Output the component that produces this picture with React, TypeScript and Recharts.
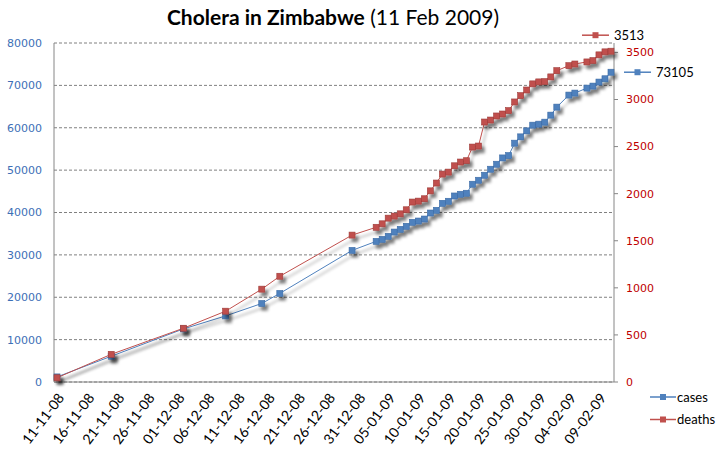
import React from 'react';
import { LineChart, Line, XAxis, YAxis, CartesianGrid, LabelList } from 'recharts';

// Report dates (day precision) and cumulative totals
const dates = [
  '2008-11-11', '2008-11-20', '2008-12-02', '2008-12-09', '2008-12-15', '2008-12-18', '2008-12-30',
  '2009-01-03', '2009-01-04', '2009-01-05', '2009-01-06', '2009-01-07', '2009-01-08', '2009-01-09',
  '2009-01-10', '2009-01-11', '2009-01-12', '2009-01-13', '2009-01-14', '2009-01-15', '2009-01-16',
  '2009-01-17', '2009-01-18', '2009-01-19', '2009-01-20', '2009-01-21', '2009-01-22', '2009-01-23',
  '2009-01-24', '2009-01-25', '2009-01-26', '2009-01-27', '2009-01-28', '2009-01-29', '2009-01-30',
  '2009-01-31', '2009-02-01', '2009-02-02', '2009-02-04', '2009-02-05', '2009-02-07', '2009-02-08',
  '2009-02-09', '2009-02-10', '2009-02-11',
];

const cases = [
  1200, 6080, 12530, 15600, 18530, 20900, 31060,
  33190, 33660, 34370, 35390, 36030, 36740, 37680,
  37990, 38460, 39880, 40520, 42170, 42650, 43900,
  44300, 44540, 46670, 47610, 48790, 50210, 51390,
  52880, 53430, 56360, 57850, 59270, 60610, 60850,
  61320, 62980, 64870, 67710, 68180, 69360, 69830,
  70780, 71560, 73105,
];

const deaths = [
  45, 294, 571, 752, 986, 1123, 1560,
  1643, 1680, 1740, 1762, 1786, 1829, 1911,
  1921, 1946, 2030, 2113, 2208, 2229, 2296,
  2336, 2350, 2495, 2506, 2761, 2782, 2825,
  2846, 2882, 2974, 3041, 3101, 3166, 3187,
  3190, 3240, 3306, 3359, 3377, 3399, 3413,
  3474, 3506, 3513,
];

const leftTicks = [0, 10000, 20000, 30000, 40000, 50000, 60000, 70000, 80000];
const rightTicks = [0, 500, 1000, 1500, 2000, 2500, 3000, 3500];
const dateTicks = [0, 5, 10, 15, 20, 25, 30, 35, 40, 45, 50, 55, 60, 65, 70, 75, 80, 85, 90];

const BLUE = '#4f81bd';
const RED = '#c0504d';
const START = Date.UTC(2008, 10, 11);
const DAY = 86400000;

const toDay = (s: string) => {
  const [y, m, d] = s.split('-').map(Number);
  return Math.round((Date.UTC(y, m - 1, d) - START) / DAY);
};

const data = dates.map((d, i) => ({ day: toDay(d), cases: cases[i], deaths: deaths[i] }));

const fmtDate = (day: number) => {
  const dt = new Date(START + day * DAY);
  const p = (n: number) => String(n).padStart(2, '0');
  return `${p(dt.getUTCDate())}-${p(dt.getUTCMonth() + 1)}-${p(dt.getUTCFullYear() % 100)}`;
};

const square = (fill: string, stroke: string) => (props: any) => {
  const { cx, cy, index } = props;
  if (cx == null || cy == null) return <g key={index} />;
  return <rect key={index} x={cx - 3} y={cy - 3} width={6} height={6} fill={fill} stroke={stroke} strokeWidth={0.6} />;
};

const LegendKey = ({ x, y, color, len = 27 }: { x: number; y: number; color: string; len?: number }) => (
  <g>
    <line x1={x} y1={y} x2={x + len} y2={y} stroke={color} strokeWidth={1.5} />
    <rect x={x + len / 2 - 3} y={y - 3} width={6} height={6} fill={color} />
  </g>
);

const lastIndex = data.length - 1;

const pointX = (props: any) => (props.viewBox && props.viewBox.x != null ? props.viewBox.x : props.x);
const pointY = (props: any) => (props.viewBox && props.viewBox.y != null ? props.viewBox.y : props.y);

const deathsLabel = (props: any) => {
  const { index, value } = props;
  if (index !== lastIndex) return null;
  const x = pointX(props);
  const y = pointY(props);
  return (
    <g>
      <LegendKey x={x - 29} y={y - 16} color={RED} />
      <text x={x + 3} y={y - 16} dy={4.5} fontSize={13} fontFamily="Lato, sans-serif" fill="#000">{value}</text>
    </g>
  );
};

const casesLabel = (props: any) => {
  const { index, value } = props;
  if (index !== lastIndex) return null;
  const x = pointX(props);
  const y = pointY(props);
  return (
    <g>
      <LegendKey x={x + 13} y={y} color={BLUE} />
      <text x={x + 45} y={y} dy={4.5} fontSize={13} fontFamily="Lato, sans-serif" fill="#000">{value}</text>
    </g>
  );
};

const series = [
  { name: 'cases', color: BLUE },
  { name: 'deaths', color: RED },
];

export default function App() {
  return (
    <div style={{ position: 'absolute', left: 0, top: 0, width: 718, height: 454, background: '#fff' }}>
      <style>{`
        body { margin: 0; }
        .recharts-line-curve, .recharts-line-dots { filter: url(#shade); }
      `}</style>
      <svg width={0} height={0} style={{ position: 'absolute' }}>
        <defs>
          <filter id="shade" x="-10%" y="-10%" width="130%" height="130%">
            <feDropShadow dx="3" dy="4" stdDeviation="1.6" floodColor="#000" floodOpacity="0.45" />
          </filter>
        </defs>
      </svg>
      <div
        style={{
          position: 'absolute', left: 0, width: 666, top: 4, textAlign: 'center',
          fontFamily: 'Lato, sans-serif', fontSize: 21, color: '#000',
        }}
      >
        <b>Cholera in Zimbabwe</b> (11 Feb 2009)
      </div>
      <LineChart
        width={718}
        height={454}
        data={data}
        margin={{ top: 43, right: 0, bottom: 0, left: 0 }}
      >
        <CartesianGrid yAxisId="left" vertical={false} stroke="#808080" strokeDasharray="3 2" />
        <XAxis
          dataKey="day"
          type="number"
          domain={[-0.5, 92.5]}
          ticks={dateTicks}
          tickFormatter={fmtDate}
          interval={0}
          angle={-53}
          textAnchor="end"
          height={72}
          tickLine={false}
          tickMargin={4}
          axisLine={{ stroke: '#868686' }}
          tick={{ fill: '#000', fontSize: 14, fontFamily: 'Lato, sans-serif' }}
        />
        <YAxis
          yAxisId="left"
          orientation="left"
          width={54}
          domain={[0, 80000]}
          ticks={leftTicks}
          tickLine={false}
          tickMargin={6}
          axisLine={{ stroke: '#868686' }}
          tick={{ fill: '#3d6fb6', fontSize: 11, fontFamily: 'DejaVu Sans, sans-serif' }}
        />
        <YAxis
          yAxisId="right"
          orientation="right"
          width={104}
          domain={[0, 3600]}
          ticks={rightTicks}
          tickSize={4}
          tickMargin={8}
          tickLine={{ stroke: '#868686' }}
          axisLine={{ stroke: '#868686' }}
          tick={{ fill: '#c00000', fontSize: 11, fontFamily: 'DejaVu Sans, sans-serif' }}
        />
        <Line
          yAxisId="left"
          dataKey="cases"
          name="cases"
          stroke={BLUE}
          strokeWidth={1}
          dot={square(BLUE, '#3a6aa5')}
          activeDot={false}
          isAnimationActive={false}
        >
          <LabelList dataKey="cases" content={casesLabel} />
        </Line>
        <Line
          yAxisId="right"
          dataKey="deaths"
          name="deaths"
          stroke={RED}
          strokeWidth={1}
          dot={square(RED, '#9e3b38')}
          activeDot={false}
          isAnimationActive={false}
        >
          <LabelList dataKey="deaths" content={deathsLabel} />
        </Line>
      </LineChart>
      <svg width={70} height={40} style={{ position: 'absolute', left: 649, top: 386 }}>
        {series.map((s, i) => (
          <g key={s.name}>
            <LegendKey x={1} y={11 + i * 22.5} color={s.color} len={26} />
            <text x={28} y={15.5 + i * 22.5} fontSize={13} fontFamily="Lato, sans-serif" fill="#000">{s.name}</text>
          </g>
        ))}
      </svg>
    </div>
  );
}
